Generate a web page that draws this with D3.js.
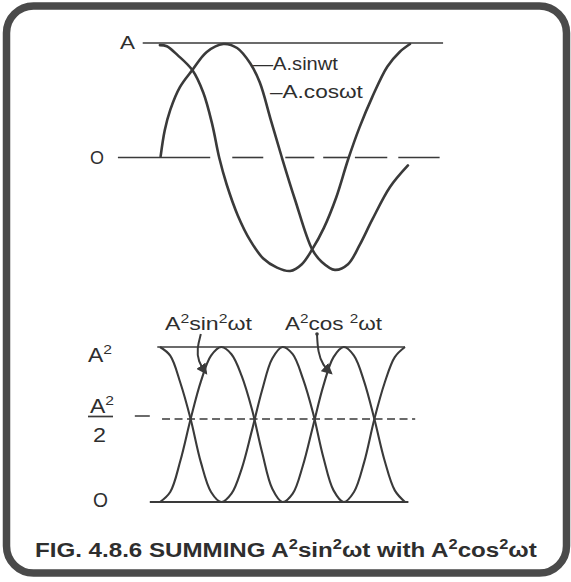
<!DOCTYPE html>
<html>
<head>
<meta charset="utf-8">
<script src="https://cdn.jsdelivr.net/npm/d3@7"></script>
<style>
  html, body { margin: 0; padding: 0; background: #fff; }
  svg { display: block; }
  text { font-family: "Liberation Sans", Arial, sans-serif; fill: #2e2e2e; }
</style>
</head>
<body>
<svg id="fig" width="571" height="582"></svg>
<script>
// ---- Upper panel: A.sinωt and A.cosωt (phase in degrees, amplitude in units of A)
const sinPhase  = [-2, 4, 12, 26, 44, 65, 89, 109, 128, 142, 158, 174, 193, 218, 232, 251, 270, 287, 305, 331, 357];
const sinValues = [0.01, 0.24, 0.42, 0.62, 0.77, 0.93, 1.0, 0.965, 0.83, 0.66, 0.33, 0.0, -0.37, -0.81, -0.92, -0.99, -0.94, -0.77, -0.55, -0.26, -0.07];

const cosPhase  = [-3, 7, 23, 44, 60, 73, 83, 94, 110, 128, 147, 167, 186, 203, 218, 235, 253, 270, 287, 305, 327, 345, 360];
const cosValues = [0.99, 0.98, 0.90, 0.77, 0.57, 0.29, 0.0, -0.24, -0.51, -0.73, -0.89, -0.97, -1.0, -0.94, -0.81, -0.62, -0.35, -0.02, 0.27, 0.53, 0.80, 0.93, 1.0];

// reference lines of the upper panel (phase extents)
const peakLine   = [-28, 408];
const zeroDashes = [[-64, 70], [102, 147], [179, 221], [234, 270], [280, 327], [343, 403]];

// ---- Lower panel: A²sin²ωt and A²cos²ωt (phase in degrees, value in units of A²)
const sqPhase     = [0, 15, 30, 45, 60, 75, 90, 105, 120, 135, 150, 165, 180, 195, 210, 225, 240, 255, 270, 285, 300, 315, 330, 345, 360];
const sinSqValues = [0, 0.06, 0.25, 0.5, 0.76, 0.94, 1, 0.95, 0.8, 0.57, 0.3, 0.08, 0, 0.05, 0.22, 0.46, 0.73, 0.93, 1, 0.94, 0.76, 0.5, 0.25, 0.07, 0];
const cosSqValues = [1, 0.94, 0.75, 0.5, 0.24, 0.06, 0, 0.05, 0.2, 0.43, 0.7, 0.92, 1, 0.95, 0.78, 0.54, 0.27, 0.07, 0, 0.06, 0.24, 0.5, 0.75, 0.93, 1];

const fullLine  = [-4, 360];
const zeroLine  = [-15, 365];
const halfLine  = [3, 375];
const halfTick  = [-37, -15];

// leader arrows from the lower labels to their curves (phase, value)
const sinSqArrow = [[60, 1.09], [54.4, 0.99], [55.8, 0.90], [67.6, 0.82]];
const cosSqArrow = [[230.7, 1.09], [232, 0.965], [239.5, 0.87], [251.3, 0.82]];

const ink = "#3a3a3a";
const svg = d3.select("#fig");

// widen a text element horizontally to a given drawn width, anchored at its left edge
function fitWidth(sel, width) {
  const node = sel.node();
  const bb = node.getBBox();
  const sx = width / bb.width;
  const x0 = bb.x;
  sel.attr("transform", `translate(${x0},0) scale(${sx},1) translate(${-x0},0)`);
  return sel;
}

// labels with raised exponents
function expLabel(sel, parts, size) {
  parts.forEach(p => {
    const t = sel.append("tspan").text(p.t);
    if (p.sup) t.attr("font-size", size * 0.68).attr("dy", -size * 0.4);
    else if (p.after) t.attr("dy", size * 0.4);
  });
  return sel;
}

// frame
svg.append("rect")
  .attr("x", 6.5).attr("y", 6).attr("width", 560).attr("height", 567)
  .attr("rx", 27).attr("ry", 27)
  .attr("fill", "#fff").attr("stroke", "#4a4a4a").attr("stroke-width", 7.5);

// ---------- upper panel ----------
const x1 = d3.scaleLinear().domain([0, 360]).range([162, 410]);
const y1 = d3.scaleLinear().domain([-1, 1]).range([271, 44]);

const g1 = svg.append("g");

g1.append("line")
  .attr("x1", x1(peakLine[0])).attr("x2", x1(peakLine[1]))
  .attr("y1", y1(1) - 1).attr("y2", y1(1) - 1)
  .attr("stroke", ink).attr("stroke-width", 1.6);

g1.selectAll("line.zero").data(zeroDashes).join("line")
  .attr("class", "zero")
  .attr("x1", d => x1(d[0])).attr("x2", d => x1(d[1]))
  .attr("y1", y1(0)).attr("y2", y1(0))
  .attr("stroke", ink).attr("stroke-width", 1.6);

const wave = d3.line()
  .x(d => x1(d[0])).y(d => y1(d[1]))
  .curve(d3.curveCatmullRom.alpha(0.5));

g1.append("path")
  .attr("d", wave(d3.zip(sinPhase, sinValues)))
  .attr("fill", "none").attr("stroke", ink).attr("stroke-width", 2.6)
  .attr("stroke-linecap", "round");

g1.append("path")
  .attr("d", wave(d3.zip(cosPhase, cosValues)))
  .attr("fill", "none").attr("stroke", ink).attr("stroke-width", 2.6)
  .attr("stroke-linecap", "round");

fitWidth(g1.append("text").attr("x", 120).attr("y", y1(1) + 5)
  .attr("font-size", 18).text("A"), 15);
fitWidth(g1.append("text").attr("x", 90).attr("y", y1(0) + 7)
  .attr("font-size", 18).text("O"), 14);

fitWidth(g1.append("text").attr("x", 253).attr("y", 70).attr("font-size", 18).text("\u2014A.sinwt"), 85);
fitWidth(g1.append("text").attr("x", 270).attr("y", 98).attr("font-size", 18).text("\u2013A.cos\u03c9t"), 93);

// ---------- lower panel ----------
const x2 = d3.scaleLinear().domain([0, 360]).range([160, 405]);
const y2 = d3.scaleLinear().domain([0, 0.5, 1]).range([502, 419, 347]);

const g2 = svg.append("g");

g2.append("line")
  .attr("x1", x2(fullLine[0])).attr("x2", x2(fullLine[1]))
  .attr("y1", y2(1)).attr("y2", y2(1))
  .attr("stroke", ink).attr("stroke-width", 1.5);
g2.append("line")
  .attr("x1", x2(zeroLine[0])).attr("x2", x2(zeroLine[1]))
  .attr("y1", y2(0)).attr("y2", y2(0))
  .attr("stroke", ink).attr("stroke-width", 1.8);
g2.append("line")
  .attr("x1", x2(halfLine[0])).attr("x2", x2(halfLine[1]))
  .attr("y1", y2(0.5)).attr("y2", y2(0.5))
  .attr("stroke", ink).attr("stroke-width", 1.6)
  .attr("stroke-dasharray", "8,4.5");
g2.append("line")
  .attr("x1", x2(halfTick[0])).attr("x2", x2(halfTick[1]))
  .attr("y1", y2(0.5) - 3).attr("y2", y2(0.5) - 3)
  .attr("stroke", ink).attr("stroke-width", 1.5);

const sq = d3.line()
  .x(d => x2(d[0])).y(d => y2(d[1]))
  .curve(d3.curveCatmullRom.alpha(0.5));

g2.append("path")
  .attr("d", sq(d3.zip(sqPhase, sinSqValues)))
  .attr("fill", "none").attr("stroke", ink).attr("stroke-width", 2.1);
g2.append("path")
  .attr("d", sq(d3.zip(sqPhase, cosSqValues)))
  .attr("fill", "none").attr("stroke", ink).attr("stroke-width", 2.1);

// arrowhead
svg.append("defs").append("marker")
  .attr("id", "head").attr("viewBox", "0 0 10 10")
  .attr("refX", 8).attr("refY", 5)
  .attr("markerWidth", 11).attr("markerHeight", 11)
  .attr("markerUnits", "userSpaceOnUse")
  .attr("orient", "auto")
  .append("path").attr("d", "M0,0 L10,5 L0,10 Z").attr("fill", ink);

const leader = d3.line()
  .x(d => x2(d[0])).y(d => y2(d[1]))
  .curve(d3.curveBasis);

[sinSqArrow, cosSqArrow].forEach(a => {
  g2.append("path")
    .attr("d", leader(a))
    .attr("fill", "none").attr("stroke", ink).attr("stroke-width", 2)
    .attr("marker-end", "url(#head)");
});
g2.append("circle")
  .attr("cx", x2(cosSqArrow[0][0])).attr("cy", y2(cosSqArrow[0][1]))
  .attr("r", 1.8).attr("fill", ink);

fitWidth(expLabel(g2.append("text").attr("x", 165).attr("y", 330).attr("font-size", 18),
  [{t: "A"}, {t: "2", sup: true}, {t: "sin", after: true}, {t: "2", sup: true}, {t: "\u03c9t", after: true}], 18), 87);

fitWidth(expLabel(g2.append("text").attr("x", 285).attr("y", 330).attr("font-size", 18),
  [{t: "A"}, {t: "2", sup: true}, {t: "cos ", after: true}, {t: "2", sup: true}, {t: "\u03c9t", after: true}], 18), 97);

fitWidth(expLabel(g2.append("text").attr("x", 88).attr("y", 362).attr("font-size", 20),
  [{t: "A"}, {t: "2", sup: true}], 20), 24);

fitWidth(expLabel(g2.append("text").attr("x", 90).attr("y", 413).attr("font-size", 20),
  [{t: "A"}, {t: "2", sup: true}], 20), 24);
g2.append("line").attr("x1", 88).attr("x2", 113).attr("y1", 416.5).attr("y2", 416.5)
  .attr("stroke", ink).attr("stroke-width", 1.7);
fitWidth(g2.append("text").attr("x", 93).attr("y", 442).attr("font-size", 21).text("2"), 13);

fitWidth(g2.append("text").attr("x", 93).attr("y", 507).attr("font-size", 21).text("O"), 15);

// caption
fitWidth(expLabel(svg.append("text").attr("x", 35).attr("y", 557)
  .attr("font-size", 21).attr("font-weight", "bold"), [
  {t: "FIG. 4.8.6 SUMMING A"}, {t: "2", sup: true}, {t: "sin", after: true}, {t: "2", sup: true},
  {t: "\u03c9t with A", after: true}, {t: "2", sup: true}, {t: "cos", after: true}, {t: "2", sup: true},
  {t: "\u03c9t", after: true}
], 21), 502);
</script>
</body>
</html>
